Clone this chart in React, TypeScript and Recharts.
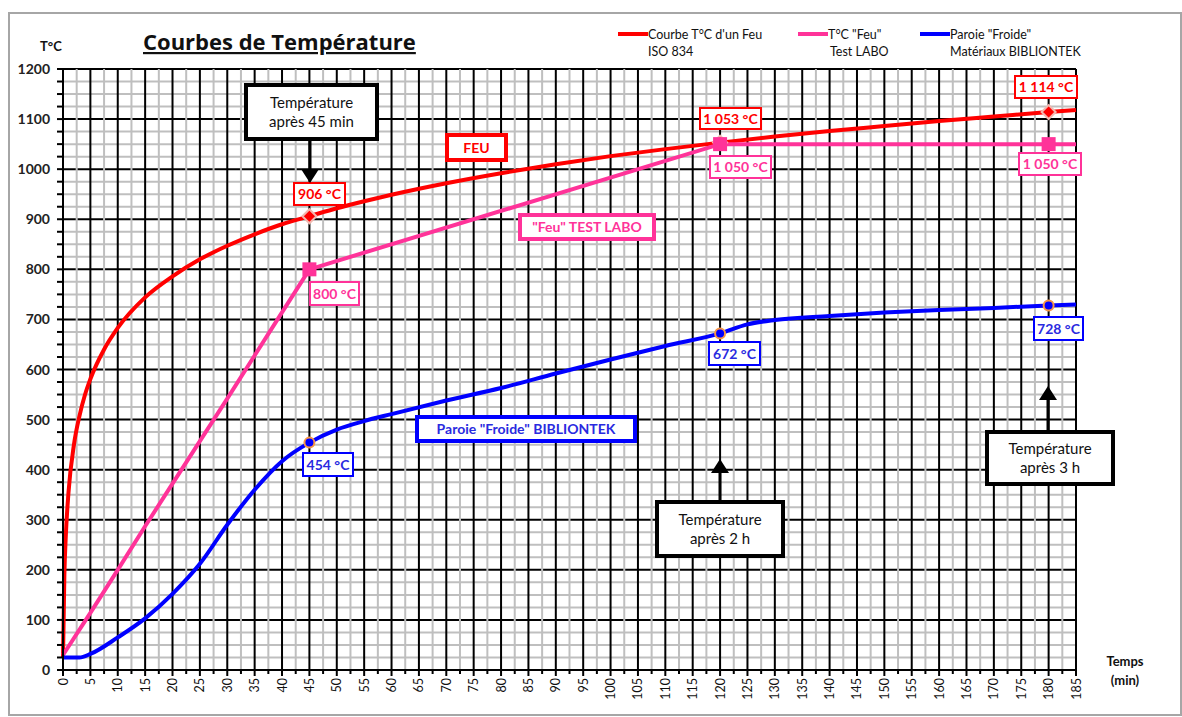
import { LineChart, Line, XAxis, YAxis, CartesianGrid, Legend } from "recharts";

const FONT = "Lato, 'Open Sans', sans-serif";
const RED = "#ff0000";
const PINK = "#ff3399";
const BLUE = "#0000ff";

// ISO 834 fire curve
const isoTime = [0, 0.25, 0.5, 1, 2, 3, 4, 5, 7.5, 10, 15, 20, 25, 30, 35, 40, 45, 50, 55, 60, 70, 80, 90, 100, 110, 120, 130, 140, 150, 160, 170, 180, 185];
const isoTemp = [25, 190, 265, 354, 450, 507, 549, 581, 640, 683, 744, 786, 820, 847, 870, 890, 906, 922, 936, 949, 972, 992, 1010, 1026, 1040, 1053, 1065, 1076, 1086, 1096, 1105, 1114, 1118];

// lab test "fire"
const laboTime = [0, 5, 10, 15, 20, 25, 30, 35, 40, 45, 120, 180, 185];
const laboTemp = [30, 114, 200, 287, 372, 457, 542, 628, 714, 800, 1050, 1050, 1050];

// cold wall
const paroiTime = [0, 3, 5, 10, 15, 20, 25, 30, 35, 40, 45, 50, 55, 60, 70, 80, 90, 100, 110, 120, 125, 130, 140, 150, 160, 170, 180, 185];
const paroiTemp = [25, 25, 32, 65, 103, 152, 212, 290, 360, 417, 454, 480, 497, 511, 538, 563, 592, 620, 647, 672, 690, 699, 707, 714, 719, 723, 728, 730];

const markTimes = [45, 120, 180];

const xTicks = [0, 5, 10, 15, 20, 25, 30, 35, 40, 45, 50, 55, 60, 65, 70, 75, 80, 85, 90, 95, 100, 105, 110, 115, 120, 125, 130, 135, 140, 145, 150, 155, 160, 165, 170, 175, 180, 185];
const yTicks = [0, 100, 200, 300, 400, 500, 600, 700, 800, 900, 1000, 1100, 1200];

const seriesNames = ["ISO 834", "T°C Feu Test LABO", "Paroie Froide"];
const legendLabels = [
  ["Courbe T°C d'un Feu", "ISO 834"],
  ['T°C "Feu"', "Test LABO"],
  ['Paroie "Froide"', "Matériaux BIBLIONTEK"],
];

const xMinor = xTicks.filter((t) => t < 185).map((t) => t + 2.5);
const yMinor = yTicks.filter((t) => t < 1200).flatMap((t) => [t + 25, t + 50, t + 75]);

const toRows = (ts: number[], vs: number[]) => ts.map((t, i) => ({ t, v: vs[i] }));
const isoData = toRows(isoTime, isoTemp);
const laboData = toRows(laboTime, laboTemp);
const paroiData = toRows(paroiTime, paroiTemp);

const DiamondDot = (p: any) => {
  const { cx, cy, payload, index } = p;
  if (!markTimes.includes(payload.t)) return <g key={index} />;
  return (
    <path key={index} d={`M${cx},${cy - 7} L${cx + 7},${cy} L${cx},${cy + 7} L${cx - 7},${cy} Z`} fill={RED} stroke="#f2b8b0" strokeWidth={2} />
  );
};
const SquareDot = (p: any) => {
  const { cx, cy, payload, index } = p;
  if (!markTimes.includes(payload.t)) return <g key={index} />;
  return <rect key={index} x={cx - 7} y={cy - 7} width={14} height={14} fill={PINK} />;
};
const CircleDot = (p: any) => {
  const { cx, cy, payload, index } = p;
  if (!markTimes.includes(payload.t)) return <g key={index} />;
  return <circle key={index} cx={cx} cy={cy} r={5} fill={BLUE} stroke="#f79646" strokeWidth={2} />;
};

const YTick = (p: any) => {
  const { x, y, payload } = p;
  const major = payload.value % 100 === 0;
  return (
    <g>
      <line x1={x - 6} x2={x} y1={y} y2={y} stroke="#000" strokeWidth={2} />
      {major && (
        <text x={x - 13} y={y} dy={5} textAnchor="end" fontSize={14} fontWeight="bold" fontFamily={FONT} fill="#222">
          {payload.value}
        </text>
      )}
    </g>
  );
};

const XTick = (p: any) => {
  const { x, y, payload } = p;
  const major = payload.value % 5 === 0;
  return (
    <g>
      <line x1={x} x2={x} y1={y} y2={y + (major ? 6 : 4)} stroke="#000" strokeWidth={2} />
      {major && (
        <text transform={`translate(${x},${y + 8}) rotate(-90)`} dy="0.36em" textAnchor="end" fontSize={12.5} fontFamily={FONT} fill="#111">
          {payload.value}
        </text>
      )}
    </g>
  );
};

const LegendContent = (p: any) => {
  const items = p.payload || [];
  const starts = [0, 180, 302];
  return (
    <div style={{ position: "relative", width: 560, height: 40, fontFamily: FONT, fontSize: 12.5, color: "#111" }}>
      {seriesNames.map((name, i) => {
        const it = items.find((e: any) => e.value === name);
        return (
          <div key={name} style={{ position: "absolute", left: starts[i], top: 0 }}>
            <div style={{ display: "flex", alignItems: "center", height: 18 }}>
              <span style={{ display: "inline-block", width: 30, height: 4, background: it ? it.color : "#000" }} />
              <span>{legendLabels[i][0]}</span>
            </div>
            <div style={{ marginLeft: i === 1 ? 32 : 30, height: 18, lineHeight: "18px" }}>{legendLabels[i][1]}</div>
          </div>
        );
      })}
    </div>
  );
};

const valueBoxes = [
  { text: "FEU", x: 445, y: 133, w: 63, h: 29, c: RED, sw: 4 },
  { text: "906 °C", x: 293, y: 182, w: 53, h: 24, c: RED, sw: 2 },
  { text: "1 053 °C", x: 699, y: 107, w: 63, h: 23, c: RED, sw: 2 },
  { text: "1 114 °C", x: 1014, y: 75, w: 64, h: 24, c: RED, sw: 2 },
  { text: '"Feu" TEST LABO', x: 518, y: 213, w: 138, h: 28, c: PINK, sw: 4 },
  { text: "800 °C", x: 309, y: 281, w: 51, h: 25, c: PINK, sw: 2 },
  { text: "1 050 °C", x: 709, y: 155, w: 63, h: 24, c: PINK, sw: 2 },
  { text: "1 050 °C", x: 1018, y: 152, w: 64, h: 24, c: PINK, sw: 2 },
  { text: 'Paroie "Froide" BIBLIONTEK', x: 415, y: 415, w: 222, h: 28, c: BLUE, sw: 4 },
  { text: "454 °C", x: 302, y: 452, w: 52, h: 25, c: BLUE, sw: 2 },
  { text: "672 °C", x: 708, y: 341, w: 53, h: 25, c: BLUE, sw: 2 },
  { text: "728 °C", x: 1033, y: 316, w: 51, h: 25, c: BLUE, sw: 2 },
];
const textColor: Record<string, string> = { [RED]: "#ff0000", [PINK]: "#ff3399", [BLUE]: "#2a2ae0" };

const callouts = [
  { lines: ["Température", "après 45 min"], x: 244, y: 83, w: 135, h: 58, ax: 310, a1: 141, a2: 183 },
  { lines: ["Température", "après 2 h"], x: 655, y: 500, w: 130, h: 58, ax: 720, a1: 500, a2: 459 },
  { lines: ["Température", "après 3 h"], x: 985, y: 430, w: 130, h: 56, ax: 1048, a1: 430, a2: 386 },
];

export default function App() {
  return (
    <div style={{ position: "absolute", left: 0, top: 0, width: 1182, height: 717, background: "#fff", fontFamily: FONT }}>
      <div style={{ position: "absolute", left: 8, top: 12, width: 1170, height: 700, border: "2px solid #a6a6a6" }} />
      <div style={{ position: "absolute", left: 0, top: 0 }}>
        <LineChart width={1182} height={717} margin={{ top: 69, right: 106, bottom: 7, left: 23 }}>
          <CartesianGrid vertical={false} horizontalValues={yMinor} stroke="#bfbfbf" strokeWidth={2} />
          <CartesianGrid vertical={false} horizontalValues={yTicks} stroke="#000" strokeWidth={2} />
          <CartesianGrid horizontal={false} verticalValues={xMinor} stroke="#bfbfbf" strokeWidth={2} />
          <CartesianGrid horizontal={false} verticalValues={xTicks} stroke="#000" strokeWidth={2} />
          <XAxis
            dataKey="t"
            type="number"
            domain={[0, 185]}
            ticks={[...xTicks, ...xMinor].sort((a, b) => a - b)}
            interval={0}
            height={40}
            tickSize={0}
            tickMargin={0}
            tick={<XTick />}
            stroke="#000"
            strokeWidth={2}
            allowDuplicatedCategory={false}
          />
          <YAxis
            type="number"
            domain={[0, 1200]}
            ticks={[...yTicks, ...yMinor].sort((a, b) => a - b)}
            interval={0}
            width={40}
            tickSize={0}
            tickMargin={0}
            tick={<YTick />}
            stroke="#000"
            strokeWidth={2}
          />
          <Legend
            layout="horizontal"
            verticalAlign="middle"
            align="center"
            wrapperStyle={{ top: 25, left: 618, width: 560, height: 40 }}
            content={<LegendContent />}
          />
          <Line data={isoData} dataKey="v" name={seriesNames[0]} stroke={RED} strokeWidth={4} type="monotone" dot={DiamondDot} activeDot={false} isAnimationActive={false} />
          <Line data={laboData} dataKey="v" name={seriesNames[1]} stroke={PINK} strokeWidth={4} type="linear" dot={SquareDot} activeDot={false} isAnimationActive={false} />
          <Line data={paroiData} dataKey="v" name={seriesNames[2]} stroke={BLUE} strokeWidth={4} type="monotone" dot={CircleDot} activeDot={false} isAnimationActive={false} />
        </LineChart>
      </div>
      <svg width={1182} height={717} style={{ position: "absolute", left: 0, top: 0, pointerEvents: "none" }} fontFamily={FONT}>
        <text x={143} y={50} fontSize={22} fontWeight="bold" fill="#111" textDecoration="underline" fontFamily="'Open Sans', sans-serif">
          Courbes de Température
        </text>
        <text x={40} y={51} fontSize={13} fontWeight="bold" fill="#111">T°C</text>
        <text x={1125} y={666} fontSize={13} fontWeight="bold" fill="#111" textAnchor="middle">Temps</text>
        <text x={1125} y={685} fontSize={13} fontWeight="bold" fill="#111" textAnchor="middle">(min)</text>
        {valueBoxes.map((b, i) => (
          <g key={i}>
            <rect x={b.x + b.sw / 2} y={b.y + b.sw / 2} width={b.w - b.sw} height={b.h - b.sw} fill="#fff" stroke={b.c} strokeWidth={b.sw} />
            <text x={b.x + b.w / 2} y={b.y + b.h / 2 + 5} textAnchor="middle" fontSize={14} fontWeight="bold" fill={textColor[b.c]}>
              {b.text}
            </text>
          </g>
        ))}
        {callouts.map((c, i) => {
          const down = c.a2 > c.a1;
          const headBase = down ? c.a2 - 14 : c.a2 + 14;
          return (
            <g key={i}>
              <line x1={c.ax} x2={c.ax} y1={c.a1} y2={headBase} stroke="#000" strokeWidth={3} />
              <path d={`M${c.ax - 9},${headBase} L${c.ax + 9},${headBase} L${c.ax},${c.a2} Z`} fill="#000" />
              <rect x={c.x + 2} y={c.y + 2} width={c.w - 4} height={c.h - 4} fill="#fff" stroke="#000" strokeWidth={4} />
              <text x={c.x + c.w / 2} y={c.y + c.h / 2 - 4} textAnchor="middle" fontSize={15} fill="#111">{c.lines[0]}</text>
              <text x={c.x + c.w / 2} y={c.y + c.h / 2 + 15} textAnchor="middle" fontSize={15} fill="#111">{c.lines[1]}</text>
            </g>
          );
        })}
      </svg>
    </div>
  );
}
